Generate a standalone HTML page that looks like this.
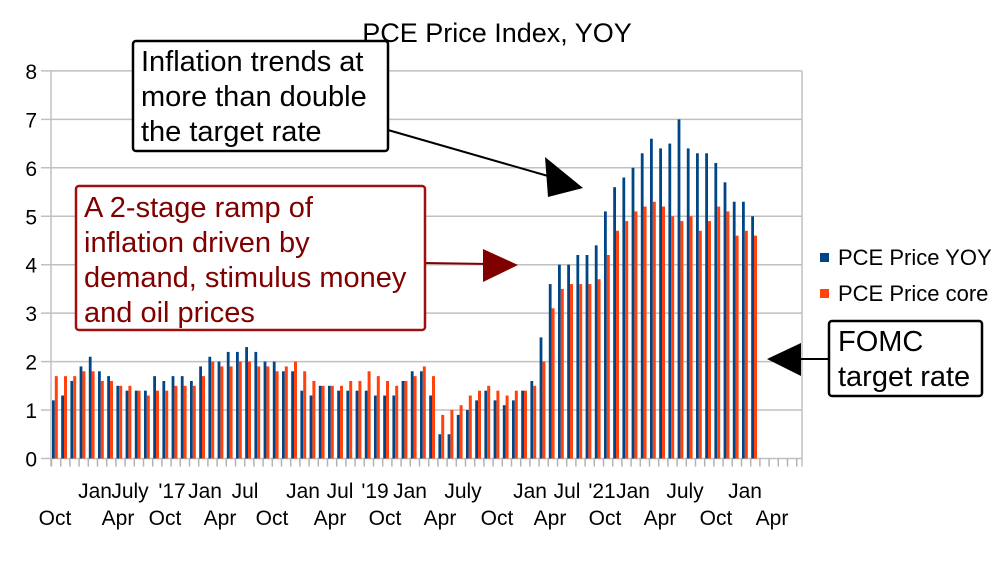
<!DOCTYPE html>
<html><head><meta charset="utf-8"><style>
body{margin:0;background:#fff;}
svg text{font-family:"Liberation Sans",sans-serif;}
</style></head><body>
<svg id="s" width="1000" height="560" xmlns="http://www.w3.org/2000/svg">
<rect width="1000" height="560" fill="#fff"/>
<text x="497" y="42" font-size="27" text-anchor="middle" fill="#000">PCE Price Index, YOY</text>
<g id="grid" stroke="#c0c0c0" stroke-width="1.5"></g>
<g id="bars"></g>
<g id="ticks" stroke="#b3b3b3" stroke-width="1.5"></g>
<g id="ylab" font-size="21" fill="#000" text-anchor="end"></g>
<g font-size="21" fill="#000" text-anchor="middle" id="xlab"></g>
<!-- legend -->
<rect x="820" y="253" width="9" height="9" fill="#004586"/>
<text x="838" y="265" font-size="22">PCE Price YOY</text>
<rect x="820" y="289" width="9" height="9" fill="#ff420e"/>
<text x="838" y="301" font-size="22">PCE Price core</text>
<!-- box 1 -->
<line x1="388" y1="130" x2="555" y2="178" stroke="#000" stroke-width="2"/>
<polygon points="583,188 545,157 548,197" fill="#000"/>
<rect x="133" y="41" width="255" height="110" rx="3" fill="#fff" stroke="#000" stroke-width="2.5"/>
<text font-size="29" fill="#000"><tspan x="141" y="71">Inflation trends at</tspan><tspan x="141" y="106">more than double</tspan><tspan x="141" y="141">the target rate</tspan></text>
<!-- box 2 -->
<line x1="425" y1="263" x2="490" y2="264" stroke="#800000" stroke-width="2"/>
<polygon points="518,265 483,249 483,282" fill="#800000"/>
<rect x="76" y="186" width="349" height="144" rx="3" fill="#fff" stroke="#a01010" stroke-width="2.5"/>
<text font-size="29" fill="#800000"><tspan x="84" y="217">A 2-stage ramp of</tspan><tspan x="84" y="252">inflation driven by</tspan><tspan x="84" y="287">demand, stimulus money</tspan><tspan x="84" y="322">and oil prices</tspan></text>
<!-- FOMC -->
<line x1="800" y1="359" x2="829" y2="359" stroke="#000" stroke-width="2"/>
<polygon points="767,359 801,343 801,376" fill="#000"/>
<rect x="829" y="321" width="153" height="75" rx="3" fill="#fff" stroke="#000" stroke-width="2.5"/>
<text font-size="29" fill="#000"><tspan x="838" y="351">FOMC</tspan><tspan x="838" y="386">target rate</tspan></text>
</svg>
<script>
var NS="http://www.w3.org/2000/svg";
function el(p,t,a){var e=document.createElementNS(NS,t);for(var k in a)e.setAttribute(k,a[k]);document.getElementById(p).appendChild(e);return e;}
var y0=458.5,u=48.45;
for(var v=0;v<=8;v++){var y=y0-v*u;el("grid","line",{x1:41,x2:802,y1:y,y2:y});var t=el("ylab","text",{x:37,y:y+8});t.textContent=v;}
el("grid","line",{x1:51,x2:51,y1:71,y2:y0+8});
el("grid","line",{x1:802,x2:802,y1:71,y2:y0+8});
var B=[1.2,1.3,1.6,1.9,2.1,1.8,1.7,1.5,1.4,1.4,1.4,1.7,1.6,1.7,1.7,1.6,1.9,2.1,2.0,2.2,2.2,2.3,2.2,2.0,2.0,1.8,1.8,1.4,1.3,1.5,1.5,1.4,1.4,1.4,1.4,1.3,1.3,1.3,1.6,1.8,1.8,1.3,0.5,0.5,0.9,1.0,1.2,1.4,1.2,1.1,1.2,1.4,1.6,2.5,3.6,4.0,4.0,4.2,4.2,4.4,5.1,5.6,5.8,6.0,6.3,6.6,6.4,6.5,7.0,6.4,6.3,6.3,6.1,5.7,5.3,5.3,5.0];
var O=[1.7,1.7,1.7,1.8,1.8,1.6,1.6,1.5,1.5,1.4,1.3,1.4,1.4,1.5,1.5,1.5,1.7,2.0,1.9,1.9,2.0,2.0,1.9,1.9,1.8,1.9,2.0,1.8,1.6,1.5,1.5,1.5,1.6,1.6,1.8,1.7,1.6,1.5,1.6,1.7,1.9,1.7,0.9,1.0,1.1,1.3,1.4,1.5,1.4,1.3,1.4,1.4,1.5,2.0,3.1,3.5,3.6,3.6,3.6,3.7,4.2,4.7,4.9,5.1,5.2,5.3,5.2,5.0,4.9,5.0,4.7,4.9,5.2,5.1,4.8,4.6,4.7];
O[76]=4.6;O[75]=4.7;O[74]=4.6;
var dx=9.2,x0=52;
for(var i=0;i<B.length;i++){var x=x0+i*dx;
el("bars","rect",{x:x,y:y0-B[i]*u,width:2.8,height:B[i]*u,fill:"#004586"});
el("bars","rect",{x:x+2.8,y:y0-O[i]*u,width:3,height:O[i]*u,fill:"#ff420e"});}
for(var i=0;i<=81;i++){var x=51+i*dx+0.5;if(x>802)break;el("ticks","line",{x1:x,x2:x,y1:y0,y2:y0+8});}
var r1=[["Jan",95],["July",130],["'17",172],["Jan",205],["Jul",245],["Jan",303],["Jul",340],["'19",375],["Jan",410],["July",463],["Jan",530],["Jul",567],["'21",602],["Jan",633],["July",685],["Jan",745]];
var r2=[["Oct",55],["Apr",118],["Oct",165],["Apr",220],["Oct",272],["Apr",330],["Oct",385],["Apr",440],["Oct",497],["Apr",550],["Oct",605],["Apr",660],["Oct",716],["Apr",772]];
r1.forEach(function(a){el("xlab","text",{x:a[1],y:498}).textContent=a[0];});
r2.forEach(function(a){el("xlab","text",{x:a[1],y:525}).textContent=a[0];});
</script>
</body></html>
